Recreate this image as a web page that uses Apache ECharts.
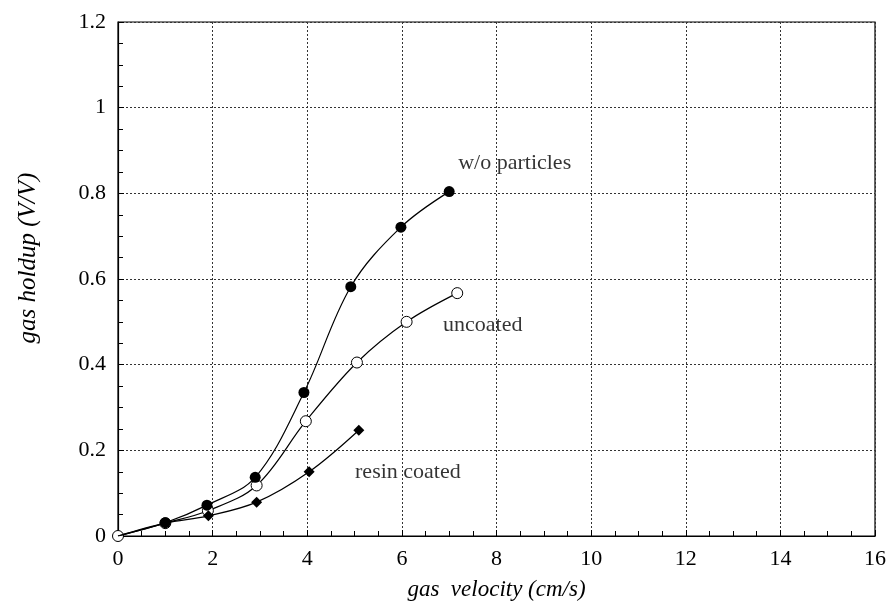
<!DOCTYPE html>
<html><head><meta charset="utf-8">
<script src="https://cdn.jsdelivr.net/npm/echarts@6/dist/echarts.min.js"></script>
<style>html,body{margin:0;padding:0;background:#fff}#c{width:891px;height:606px}</style>
</head><body><div id="c"></div>
<script>
var woX = [0, 1.0, 1.88, 2.9, 3.93, 4.92, 5.98, 7.0];
var woY = [0, 0.031, 0.072, 0.137, 0.335, 0.582, 0.721, 0.804];
var unX = [0, 1.0, 1.9, 2.93, 3.97, 5.05, 6.1, 7.17];
var unY = [0, 0.03, 0.059, 0.118, 0.268, 0.405, 0.5, 0.567];
var reX = [0, 1.0, 1.91, 2.93, 4.04, 5.09];
var reY = [0, 0.03, 0.047, 0.079, 0.150, 0.247];
var xTicks = [0, 2, 4, 6, 8, 10, 12, 14, 16];
var yTicks = [0, 0.2, 0.4, 0.6, 0.8, 1, 1.2];
var labels = [
  {text: 'w/o particles', x: 7.19, y: 0.871},
  {text: 'uncoated', x: 6.87, y: 0.493},
  {text: 'resin coated', x: 5.01, y: 0.149}
];

function pairs(xs, ys, hideFirst) {
  return xs.map(function (x, i) {
    var d = {value: [x, ys[i]]};
    if (hideFirst && i === 0) d.symbol = 'none';
    return d;
  });
}
var serif = 'Liberation Serif';
var chart = echarts.init(document.getElementById('c'));
chart.setOption({
  animation: false,
  backgroundColor: '#fff',
  grid: {left: 118, right: 16, top: 22, bottom: 70, show: true, borderColor: '#000', borderWidth: 1.2},
  xAxis: {
    type: 'value', min: 0, max: 16, interval: 2,
    name: 'gas  velocity (cm/s)', nameLocation: 'middle', nameGap: 42,
    nameTextStyle: {fontFamily: serif, fontStyle: 'italic', fontSize: 23, color: '#000'},
    axisLine: {lineStyle: {color: '#000', width: 1.2}},
    axisTick: {inside: true, length: 6, lineStyle: {color: '#000'}},
    minorTick: {show: true, splitNumber: 4, length: 5, lineStyle: {color: '#000'}},
    axisLabel: {fontFamily: serif, fontSize: 22, color: '#000', margin: 12,
      formatter: function (v) { return xTicks.indexOf(v) >= 0 ? String(v) : ''; }},
    splitLine: {show: true, lineStyle: {color: '#333', type: [2, 2], width: 1}}
  },
  yAxis: {
    type: 'value', min: 0, max: 1.2, interval: 0.2,
    name: 'gas holdup (V/V)', nameLocation: 'middle', nameGap: 77, nameRotate: 90,
    nameTextStyle: {fontFamily: serif, fontStyle: 'italic', fontSize: 25, color: '#000', padding: [0, 0, 0, 42]},
    axisLine: {show: true, lineStyle: {color: '#000', width: 1.2}},
    axisTick: {inside: true, length: 6, lineStyle: {color: '#000'}},
    minorTick: {show: true, splitNumber: 4, length: 5, lineStyle: {color: '#000'}},
    axisLabel: {fontFamily: serif, fontSize: 22, color: '#000', margin: 12,
      formatter: function (v) {
        for (var i = 0; i < yTicks.length; i++) if (Math.abs(yTicks[i] - v) < 1e-9) return String(yTicks[i]);
        return '';
      }},
    splitLine: {show: true, lineStyle: {color: '#333', type: [2, 2], width: 1}}
  },
  series: [
    {type: 'line', name: 'uncoated', data: pairs(unX, unY, false), smooth: 0.35,
      symbol: 'circle', symbolSize: 11, z: 2,
      lineStyle: {color: '#000', width: 1.2}, itemStyle: {color: '#fff', borderColor: '#000', borderWidth: 1}},
    {type: 'line', name: 'resin coated', data: pairs(reX, reY, true), smooth: 0.35,
      symbol: 'diamond', symbolSize: 11, z: 3,
      lineStyle: {color: '#000', width: 1.2}, itemStyle: {color: '#000'}},
    {type: 'line', name: 'w/o particles', data: pairs(woX, woY, true), smooth: 0.35,
      symbol: 'circle', symbolSize: 11, z: 4,
      lineStyle: {color: '#000', width: 1.2}, itemStyle: {color: '#000'}},
    {type: 'scatter', data: labels.map(function (l) { return {value: [l.x, l.y], name: l.text}; }),
      symbolSize: 0, silent: true,
      label: {show: true, position: 'right', distance: 0, formatter: '{b}',
        fontFamily: serif, fontSize: 22, color: '#000'}}
  ]
});
</script></body></html>
